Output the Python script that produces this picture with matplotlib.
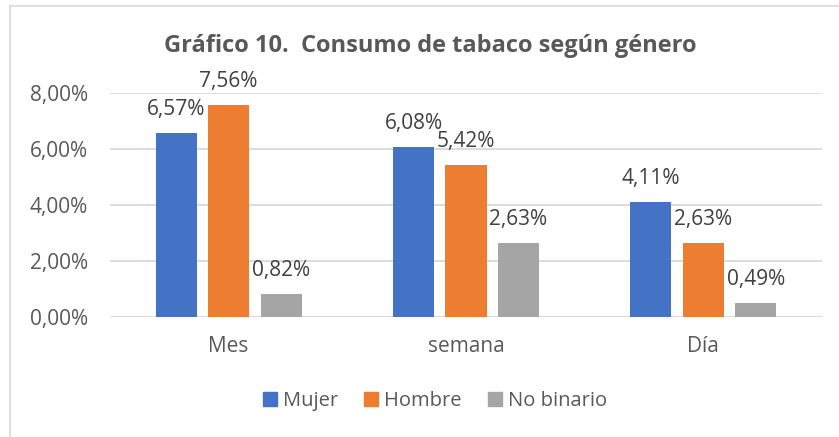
import numpy as np
import matplotlib.pyplot as plt
from matplotlib.lines import Line2D
from matplotlib.patches import Patch

categories = ['Mes', 'semana', 'Día']
series = ['Mujer', 'Hombre', 'No binario']
mujer = [6.57, 6.08, 4.11]
hombre = [7.56, 5.42, 2.63]
no_binario = [0.82, 2.63, 0.49]
yticks = [0, 2, 4, 6, 8]

colors = ['#4472C4', '#ED7D31', '#A5A5A5']
txt = '#595959'
plt.rcParams['font.family'] = ['Open Sans', 'DejaVu Sans']

fig = plt.figure(figsize=(8.39, 4.37), dpi=100)
ax = fig.add_axes([110 / 839, 1 - 317 / 437, 712 / 839, 224 / 437])

x = np.arange(len(categories))
w = 0.173
step = 0.221
for i, (name, vals) in enumerate(zip(series, [mujer, hombre, no_binario])):
    pos = x + (i - 1) * step
    ax.bar(pos, vals, width=w, color=colors[i], label=name, zorder=3)
    for px, v in zip(pos, vals):
        ax.annotate('{:.2f}%'.format(v).replace('.', ','), (px, v),
                    xytext=(0, 13), textcoords='offset points',
                    ha='center', va='baseline', fontsize=15, color='#404040',
                    annotation_clip=False)

ax.set_xlim(-0.5, 2.5)
ax.set_ylim(0, 8)
ax.set_yticks(yticks)
ax.set_yticklabels(['{:.2f}%'.format(t).replace('.', ',') for t in yticks])
ax.set_xticks(x)
ax.set_xticklabels(categories)
ax.tick_params(length=0, labelsize=15, colors=txt)
ax.tick_params(axis='y', pad=16)
ax.tick_params(axis='x', pad=14)
ax.grid(axis='y', color='#D9D9D9', linewidth=1.3, zorder=0)
for s in ax.spines.values():
    s.set_visible(False)

fig.text(430 / 839, 1 - 46 / 437, 'Gráfico 10.  Consumo de tabaco según género',
         ha='center', va='center', fontsize=17, fontweight='bold', color=txt)

handles = [Patch(color=c) for c in colors]
fig.legend(handles, series, loc='center', bbox_to_anchor=(435 / 839, 1 - 401 / 437),
           ncol=3, frameon=False, fontsize=14.5, labelcolor=txt,
           handlelength=0.7, handleheight=0.7, handletextpad=0.3, columnspacing=1.3)

fig.add_artist(Line2D([10 / 839, 10 / 839], [0, 1 - 6 / 437], color='#D9D9D9', lw=1.2))
fig.add_artist(Line2D([10 / 839, 1], [1 - 6 / 437, 1 - 6 / 437], color='#D9D9D9', lw=1.2))

fig.savefig('out.png', dpi=100)
